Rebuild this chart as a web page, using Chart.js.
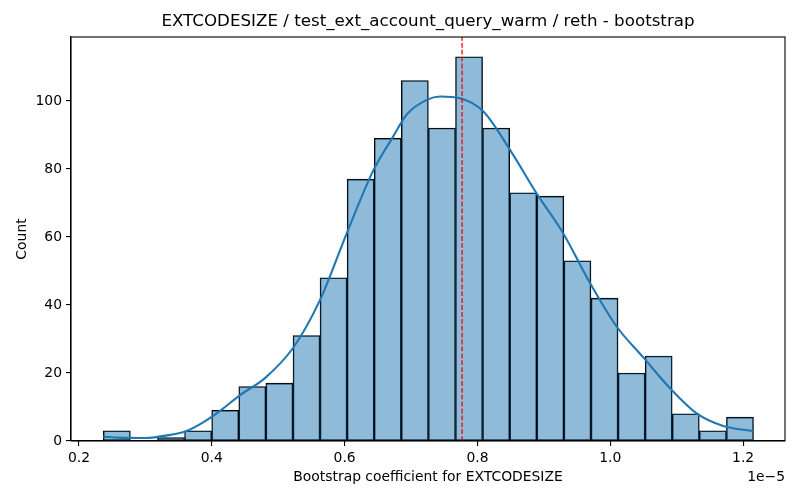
<!DOCTYPE html>
<html>
<head>
<meta charset="utf-8">
<script src="https://cdn.jsdelivr.net/npm/chart.js@4/dist/chart.umd.min.js"></script>
<style>
  html, body { margin: 0; padding: 0; background: #fff; }
  #wrap { width: 800px; height: 500px; }
</style>
</head>
<body>
<div id="wrap"><canvas id="c" width="800" height="500"></canvas></div>
<script>
// ---- data ----
const binCenters = [0.2570, 0.2978, 0.3386, 0.3794, 0.4202, 0.4610, 0.5018, 0.5426, 0.5833, 0.6241, 0.6649, 0.7057,
                    0.7465, 0.7873, 0.8281, 0.8689, 0.9097, 0.9505, 0.9913, 1.0321, 1.0728, 1.1136, 1.1544, 1.1952];
const binCounts = [3, 0, 1, 3, 9, 16, 17, 31, 48, 77, 89, 106, 92, 113, 92, 73, 72, 53, 42, 20, 25, 8, 3, 7];
const kdeX = [0.2366, 0.26, 0.30, 0.337, 0.36, 0.387, 0.412, 0.4425, 0.48, 0.5228, 0.563, 0.603, 0.643, 0.673,
              0.6935, 0.7236, 0.7437, 0.7738, 0.8089, 0.849, 0.889, 0.929, 0.9696, 1.0098, 1.050, 1.090, 1.130, 1.170, 1.2155];
const kdeY = [1.3, 1.0, 0.9, 1.8, 2.8, 5.5, 8.8, 13.5, 18.5, 27.5, 41.5, 61, 79.5, 89.5,
              96, 100.3, 101.3, 100.8, 96.9, 85.6, 72.8, 61.1, 46.4, 33.6, 24.5, 15.5, 8.1, 4.4, 2.9];
const markerX = 0.7768;
const xTicks = [0.2, 0.4, 0.6, 0.8, 1.0, 1.2];
const yTicks = [0, 20, 40, 60, 80, 100];
const xMin = 0.188, xMax = 1.263, yMax = 118.8;
const titleText = 'EXTCODESIZE / test_ext_account_query_warm / reth - bootstrap';
const xLabel = 'Bootstrap coefficient for EXTCODESIZE';
const yLabel = 'Count';
const offsetText = '1e\u22125';

const FONT = "'DejaVu Sans', sans-serif";

const framePlugin = {
  id: 'frame',
  afterDraw(chart) {
    const { ctx, chartArea: a } = chart;
    ctx.save();
    ctx.strokeStyle = '#000';
    ctx.lineWidth = 1.1;
    ctx.strokeRect(a.left, a.top, a.right - a.left, a.bottom - a.top);
    ctx.fillStyle = '#000';
    ctx.font = '13.9px ' + FONT;
    ctx.textAlign = 'right';
    ctx.textBaseline = 'middle';
    ctx.fillText(offsetText, a.right, 477);
    ctx.font = '16.7px ' + FONT;
    ctx.textAlign = 'center';
    ctx.fillText(titleText, (a.left + a.right) / 2, 22);
    ctx.restore();
  }
};

new Chart(document.getElementById('c'), {
  data: {
    datasets: [
      {
        type: 'bar',
        data: binCenters.map((x, i) => ({ x: x, y: binCounts[i] })),
        backgroundColor: 'rgba(31,119,180,0.5)',
        borderColor: '#000',
        borderWidth: 0.9,
        borderSkipped: false,
        barPercentage: 1,
        categoryPercentage: 1,
        order: 3
      },
      {
        type: 'line',
        data: kdeX.map((x, i) => ({ x: x, y: kdeY[i] })),
        borderColor: '#1f77b4',
        borderWidth: 2.1,
        pointRadius: 0,
        cubicInterpolationMode: 'monotone',
        fill: false,
        order: 2
      },
      {
        type: 'line',
        data: [{ x: markerX, y: 0 }, { x: markerX, y: yMax }],
        borderColor: '#ff0000',
        borderWidth: 1.3,
        borderDash: [4.8, 2.1],
        pointRadius: 0,
        fill: false,
        order: 1
      }
    ]
  },
  options: {
    responsive: false,
    animation: false,
    devicePixelRatio: 1,
    layout: { padding: { left: 0, right: 15, top: 37, bottom: 0 } },
    plugins: {
      legend: { display: false },
      tooltip: { enabled: false },
      title: { display: false }
    },
    scales: {
      x: {
        type: 'linear',
        min: xMin,
        max: xMax,
        offset: false,
        afterBuildTicks(scale) { scale.ticks = xTicks.map(v => ({ value: v })); },
        afterFit(scale) { scale.height = 59; },
        ticks: {
          color: '#000',
          font: { family: FONT, size: 13.9 },
          padding: 4,
          maxRotation: 0,
          autoSkip: false,
          callback: v => v.toFixed(1)
        },
        grid: { display: true, offset: false, drawOnChartArea: false, drawTicks: true, tickLength: 5, color: '#000', lineWidth: 1.1 },
        border: { display: true, color: '#000', width: 1.1 },
        title: {
          display: true,
          text: xLabel,
          color: '#000',
          font: { family: FONT, size: 13.9, lineHeight: 1.2 },
          padding: { top: 0, bottom: 14.7 }
        }
      },
      y: {
        type: 'linear',
        min: 0,
        max: yMax,
        afterBuildTicks(scale) { scale.ticks = yTicks.map(v => ({ value: v })); },
        afterFit(scale) { scale.width = 71; },
        ticks: {
          color: '#000',
          font: { family: FONT, size: 13.9 },
          padding: 4,
          autoSkip: false,
          callback: v => String(v)
        },
        grid: { display: true, offset: false, drawOnChartArea: false, drawTicks: true, tickLength: 5, color: '#000', lineWidth: 1.1 },
        border: { display: true, color: '#000', width: 1.1 },
        title: {
          display: true,
          text: yLabel,
          color: '#000',
          font: { family: FONT, size: 13.9, lineHeight: 1.2 },
          padding: { top: 13.7, bottom: 0 }
        }
      }
    }
  },
  plugins: [framePlugin]
});
</script>
</body>
</html>
